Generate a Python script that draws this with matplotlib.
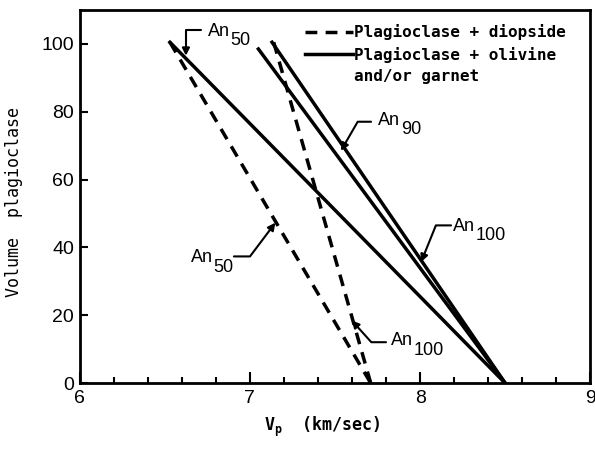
import matplotlib
matplotlib.use("Agg")
import matplotlib.pyplot as plt
from matplotlib.ticker import MultipleLocator
from matplotlib import font_manager as fm

# ---- data ----
solid_an50_x = [6.53, 8.50]
solid_an50_y = [100.5, 0]
solid_an90_x = [7.05, 8.50]
solid_an90_y = [98.5, 0]
solid_an100_x = [7.13, 8.50]
solid_an100_y = [100.5, 0]
dash_an50_x = [6.53, 7.71]
dash_an50_y = [100.5, 0]
dash_an100_x = [7.14, 7.71]
dash_an100_y = [100.5, 0]

xticks = [6, 7, 8, 9]
yticks = [0, 20, 40, 60, 80, 100]
legend_labels = ["Plagioclase + diopside", "Plagioclase + olivine", "and/or garnet"]

names = {f.name for f in fm.fontManager.ttflist}
sans = "Liberation Sans Narrow" if "Liberation Sans Narrow" in names else "Liberation Sans"
mono = "DejaVu Sans Mono"

fig = plt.figure(figsize=(5.95, 4.55), dpi=100)
ax = fig.add_axes([0.134, 0.158, 0.858, 0.820])

lw = 2.5
dash = (0, (3.4, 2.4))
h_dash, = ax.plot(dash_an50_x, dash_an50_y, color="black", lw=lw, linestyle=dash)
ax.plot(dash_an100_x, dash_an100_y, color="black", lw=lw, linestyle=dash)
h_solid, = ax.plot(solid_an50_x, solid_an50_y, color="black", lw=lw)
ax.plot(solid_an90_x, solid_an90_y, color="black", lw=lw)
ax.plot(solid_an100_x, solid_an100_y, color="black", lw=lw)
h_none, = ax.plot([], [], color="none")

ax.set_xlim(6, 9)
ax.set_ylim(0, 110)
ax.set_xticks(xticks)
ax.set_yticks(yticks)
ax.xaxis.set_minor_locator(MultipleLocator(0.2))
ax.tick_params(axis="x", which="major", direction="in", length=8, width=1.5, pad=5)
ax.tick_params(axis="x", which="minor", direction="in", length=4, width=1.5)
ax.tick_params(axis="y", which="major", direction="in", length=6, width=1.5, pad=4)
for lab in ax.get_xticklabels() + ax.get_yticklabels():
    lab.set_fontfamily(sans)
    lab.set_fontsize(14)
for s in ax.spines.values():
    s.set_linewidth(2)

ax.set_xlabel(r"$\mathregular{V_p}$  (km/sec)", fontfamily=mono, fontsize=12, fontweight="bold")
ax.xaxis.set_label_coords(0.476, -0.085)
ax.set_ylabel("Volume  plagioclase", fontfamily=mono, fontsize=12)
ax.yaxis.set_label_coords(-0.112, 0.485)

leg = ax.legend([h_dash, h_solid, h_none], legend_labels, loc="upper left",
                bbox_to_anchor=(0.441, 0.962), frameon=False, borderpad=0,
                borderaxespad=0, handlelength=3.0, handletextpad=0.1,
                labelspacing=0.4, prop={"family": mono, "size": 11.5, "weight": "bold"})

# annotations: (text x, text y, sub, leader start, tip, angleB)
labels = [
    (6.753, 103.8, "50", (6.712, 104.1), (6.624, 96.5), 90),
    (6.653, 36.9, "50", (6.906, 37.35), (7.150, 47.3), 53),
    (7.753, 77.5, "90", (7.712, 77.06), (7.535, 68.5), 60),
    (8.194, 46.3, "100", (8.182, 46.5), (8.006, 35.7), 68),
    (7.829, 12.5, "100", (7.800, 12.06), (7.598, 18.5), 132),
]
for tx, ty, sub, start, tip, angB in labels:
    t = ax.text(tx, ty, "An", ha="left", va="center", fontfamily=sans, fontsize=13)
    ax.annotate(sub, xy=(1, 0.5), xycoords=t, xytext=(0.5, -7), textcoords="offset points",
                ha="left", va="center", fontfamily=sans, fontsize=13)
    ax.annotate("", xy=tip, xytext=start,
                arrowprops=dict(arrowstyle="-|>", color="black", lw=1.5, mutation_scale=11,
                                shrinkA=0, shrinkB=0,
                                connectionstyle=f"angle,angleA=0,angleB={angB},rad=0"))

fig.savefig("out.png", dpi=100)
